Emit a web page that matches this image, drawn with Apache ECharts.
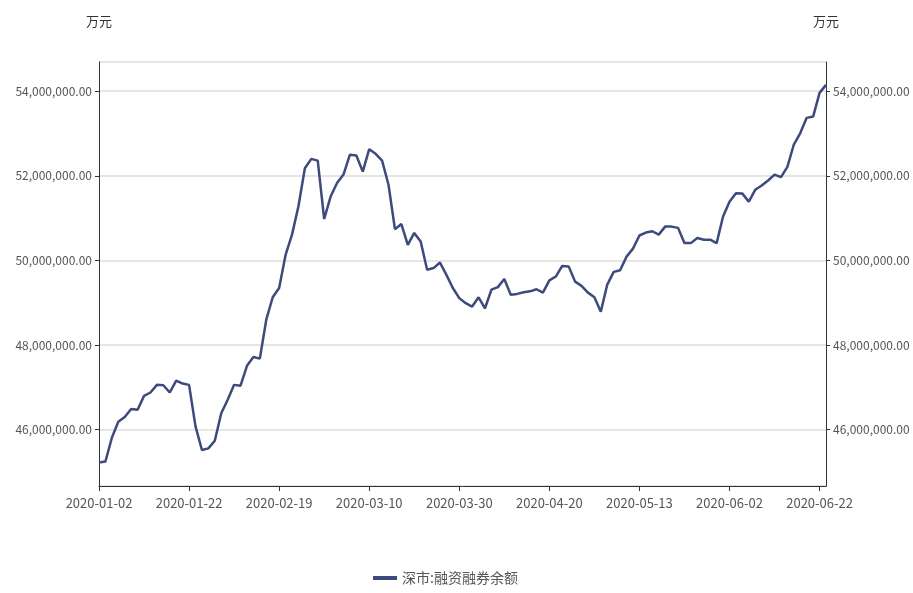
<!DOCTYPE html>
<html>
<head>
<meta charset="utf-8">
<script src="https://cdn.jsdelivr.net/npm/echarts@6/dist/echarts.min.js"></script>
<style>html,body{margin:0;padding:0;background:#fff;}#c{width:913px;height:593px;}</style>
</head>
<body>
<div id="c"></div>
<script>
var dates = [
 '2020-01-02','2020-01-03','2020-01-06','2020-01-07','2020-01-08','2020-01-09','2020-01-10','2020-01-13','2020-01-14','2020-01-15',
 '2020-01-16','2020-01-17','2020-01-20','2020-01-21','2020-01-22','2020-01-23',
 '2020-02-03','2020-02-04','2020-02-05','2020-02-06','2020-02-07','2020-02-10','2020-02-11','2020-02-12','2020-02-13','2020-02-14',
 '2020-02-17','2020-02-18','2020-02-19','2020-02-20','2020-02-21','2020-02-24','2020-02-25','2020-02-26','2020-02-27','2020-02-28',
 '2020-03-02','2020-03-03','2020-03-04','2020-03-05','2020-03-06','2020-03-09','2020-03-10','2020-03-11','2020-03-12','2020-03-13',
 '2020-03-16','2020-03-17','2020-03-18','2020-03-19','2020-03-20','2020-03-23','2020-03-24','2020-03-25','2020-03-26','2020-03-27',
 '2020-03-30','2020-03-31',
 '2020-04-01','2020-04-02','2020-04-03','2020-04-07','2020-04-08','2020-04-09','2020-04-10','2020-04-13','2020-04-14','2020-04-15',
 '2020-04-16','2020-04-17','2020-04-20','2020-04-21','2020-04-22','2020-04-23','2020-04-24','2020-04-27','2020-04-28','2020-04-29','2020-04-30',
 '2020-05-06','2020-05-07','2020-05-08','2020-05-11','2020-05-12','2020-05-13','2020-05-14','2020-05-15','2020-05-18','2020-05-19',
 '2020-05-20','2020-05-21','2020-05-22','2020-05-25','2020-05-26','2020-05-27','2020-05-28','2020-05-29',
 '2020-06-01','2020-06-02','2020-06-03','2020-06-04','2020-06-05','2020-06-08','2020-06-09','2020-06-10','2020-06-11','2020-06-12',
 '2020-06-15','2020-06-16','2020-06-17','2020-06-18','2020-06-19','2020-06-22','2020-06-23'
];
// 深市融资融券余额 (万元)
var balance = [
 45225000,45250000,45810000,46190000,46300000,46490000,46470000,46800000,46880000,47060000,
 47050000,46880000,47160000,47090000,47060000,46080000,
 45520000,45560000,45740000,46390000,46710000,47060000,47040000,47510000,47720000,47680000,
 48600000,49130000,49350000,50130000,50610000,51280000,52180000,52400000,52360000,50980000,
 51510000,51830000,52030000,52500000,52480000,52100000,52630000,52520000,52360000,51790000,
 50740000,50860000,50370000,50650000,50450000,49780000,49820000,49950000,49660000,49350000,
 49110000,48990000,
 48910000,49130000,48870000,49310000,49370000,49560000,49190000,49210000,49250000,49270000,
 49320000,49240000,49530000,49620000,49870000,49860000,49500000,49400000,49240000,49130000,48790000,
 49430000,49730000,49770000,50090000,50280000,50590000,50660000,50690000,50610000,50800000,
 50800000,50770000,50410000,50410000,50530000,50490000,50490000,50410000,
 51040000,51390000,51590000,51580000,51390000,51670000,51770000,51890000,52030000,51970000,
 52210000,52740000,53010000,53370000,53400000,53960000,54150000
];
var seriesName = '深市:融资融券余额';
var unitName = '万元';
var yMin = 44670000, yMax = 54690000;

function fmt(v){
  var s = Math.round(v).toString().replace(/\B(?=(\d{3})+(?!\d))/g, ',');
  return s + '.00';
}
var FONT = '"Liberation Sans Narrow", "Noto Sans CJK SC", sans-serif';
var chart = echarts.init(document.getElementById('c'), null, {renderer:'canvas'});
function yAxis(pos){
  return {
    type:'value', position: pos, min:yMin, max:yMax,
    name: unitName, nameLocation:'end', nameGap: 34,
    nameTextStyle:{color:'#333', fontSize:13, fontFamily:FONT},
    axisLine:{show:true, lineStyle:{color:'#333', width:1}},
    axisTick:{show:true, length:4, lineStyle:{color:'#333'}},
    axisLabel:{color:'#555', fontSize:12, fontFamily:FONT, margin:7, showMinLabel:false, showMaxLabel:false, formatter: fmt},
    splitLine:{show: pos==='left', lineStyle:{color:'#dcdcdc', width:1.5}}
  };
}
chart.setOption({
  animation:false,
  backgroundColor:'#fff',
  grid:{left:99, right:87, top:62, bottom:107, containLabel:false, outerBoundsMode:'none'},
  legend:{
    data:[seriesName], bottom:3, left:368, icon:'rect', itemWidth:24, itemHeight:4, itemGap:6,
    textStyle:{color:'#555', fontSize:14, fontFamily:FONT}
  },
  xAxis:{
    type:'category', data:dates, boundaryGap:false,
    axisLine:{lineStyle:{color:'#333', width:1}},
    axisTick:{interval:13, length:5, lineStyle:{color:'#333'}},
    axisLabel:{interval:13, color:'#555', fontSize:13, fontFamily:FONT, margin:11},
    splitLine:{show:false}
  },
  yAxis:[yAxis('left'), yAxis('right')],
  series:[{
    name: seriesName, type:'line', data: balance, yAxisIndex:0,
    showSymbol:false, symbol:'none', smooth:false,
    lineStyle:{color:'#3d4a7c', width:2.5}, itemStyle:{color:'#3d4a7c'}
  }]
});
</script>
</body>
</html>
